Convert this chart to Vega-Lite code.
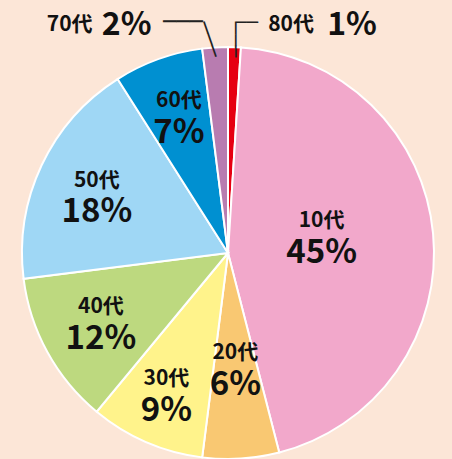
{
  "$schema": "https://vega.github.io/schema/vega-lite/v6.json",
  "width": 448,
  "height": 412,
  "autosize": {"type": "none"},
  "padding": {"left": 4, "top": 47, "right": 0, "bottom": 0},
  "background": "#fce6d7",
  "config": {"view": {"stroke": null}},
  "data": {
    "values": [
      {"age": "80代", "share": 0.01, "ord": 0},
      {"age": "10代", "share": 0.45, "ord": 1},
      {"age": "20代", "share": 0.06, "ord": 2},
      {"age": "30代", "share": 0.09, "ord": 3},
      {"age": "40代", "share": 0.12, "ord": 4},
      {"age": "50代", "share": 0.18, "ord": 5},
      {"age": "60代", "share": 0.07, "ord": 6},
      {"age": "70代", "share": 0.02, "ord": 7}
    ]
  },
  "encoding": {
    "theta": {"field": "share", "type": "quantitative", "stack": true},
    "order": {"field": "ord", "type": "quantitative", "sort": "ascending"},
    "detail": {"field": "age", "type": "nominal"}
  },
  "layer": [
    {
      "mark": {"type": "arc", "stroke": "#ffffff", "strokeWidth": 2},
      "encoding": {
        "color": {
          "field": "age",
          "type": "nominal",
          "legend": null,
          "scale": {
            "domain": ["80代", "10代", "20代", "30代", "40代", "50代", "60代", "70代"],
            "range": ["#e60012", "#f2a8cb", "#f9c872", "#fff38b", "#bdd97f", "#9fd7f5", "#0090d1", "#b87cb0"]
          }
        }
      }
    },
    {
      "mark": {"type": "text", "font": "Noto Sans CJK JP", "fontWeight": "bold", "fontSize": 21, "fill": "#111111", "baseline": "middle",
        "dy": {"expr": "datum.ord==1 ? -23 : datum.ord==5 ? -10 : -16"},
        "radius": {"expr": "datum.ord==1 ? 94 : datum.ord==2 ? 116 : datum.ord==3 ? 155 : 145"}},
      "encoding": {
        "text": {"field": "age", "type": "nominal"},
        "opacity": {"condition": {"test": "datum.ord >= 1 && datum.ord <= 6", "value": 1}, "value": 0}
      }
    },
    {
      "mark": {"type": "text", "font": "Noto Sans CJK JP", "fontWeight": "bold", "fontSize": 33, "fill": "#111111", "baseline": "middle",
        "dy": {"expr": "datum.ord==1 ? 9 : datum.ord==5 ? 21 : 16"},
        "radius": {"expr": "datum.ord==1 ? 94 : datum.ord==2 ? 116 : datum.ord==3 ? 155 : 145"}},
      "encoding": {
        "text": {"field": "share", "type": "quantitative", "format": ".0%"},
        "opacity": {"condition": {"test": "datum.ord >= 1 && datum.ord <= 6", "value": 1}, "value": 0}
      }
    },
    {
      "mark": {"type": "text", "font": "Noto Sans CJK JP", "fontWeight": "bold", "fontSize": 21, "fill": "#111111", "baseline": "middle", "radius": 230, "dy": 2,
        "align": {"expr": "datum.ord==0 ? 'left' : 'right'"},
        "dx": {"expr": "datum.ord==0 ? 33 : -121"}},
      "encoding": {
        "text": {"field": "age", "type": "nominal"},
        "opacity": {"condition": {"test": "datum.ord == 0 || datum.ord == 7", "value": 1}, "value": 0}
      }
    },
    {
      "mark": {"type": "text", "font": "Noto Sans CJK JP", "fontWeight": "bold", "fontSize": 32, "fill": "#111111", "baseline": "middle", "radius": 230, "dy": 2,
        "align": {"expr": "datum.ord==0 ? 'left' : 'right'"},
        "dx": {"expr": "datum.ord==0 ? 92 : -62"}},
      "encoding": {
        "text": {"field": "share", "type": "quantitative", "format": ".0%"},
        "opacity": {"condition": {"test": "datum.ord == 0 || datum.ord == 7", "value": 1}, "value": 0}
      }
    },
    {
      "mark": {"type": "text", "font": "DejaVu Sans", "fill": "#222222", "baseline": "middle", "align": "center", "text": "───",
        "radius": {"expr": "datum.ord==0 ? 213 : 214"},
        "angle": {"expr": "datum.ord==0 ? 90 : 71"},
        "fontSize": {"expr": "datum.ord==0 ? 19 : 20.5"},
        "dx": {"expr": "datum.ord==0 ? 0 : -1.8"},
        "dy": {"expr": "datum.ord==0 ? 0 : 5.3"}},
      "encoding": {
        "opacity": {"condition": {"test": "datum.ord == 0 || datum.ord == 7", "value": 1}, "value": 0}
      }
    },
    {
      "mark": {"type": "text", "font": "DejaVu Sans", "fill": "#222222", "baseline": "middle", "align": "center", "radius": 230,
        "text": {"expr": "datum.ord==0 ? '──' : '───'"},
        "fontSize": {"expr": "datum.ord==0 ? 19 : 22"},
        "dx": {"expr": "datum.ord==0 ? 11.3 : -30.6"},
        "dy": {"expr": "datum.ord==0 ? 0 : -1.5"}},
      "encoding": {
        "opacity": {"condition": {"test": "datum.ord == 0 || datum.ord == 7", "value": 1}, "value": 0}
      }
    }
  ]
}
